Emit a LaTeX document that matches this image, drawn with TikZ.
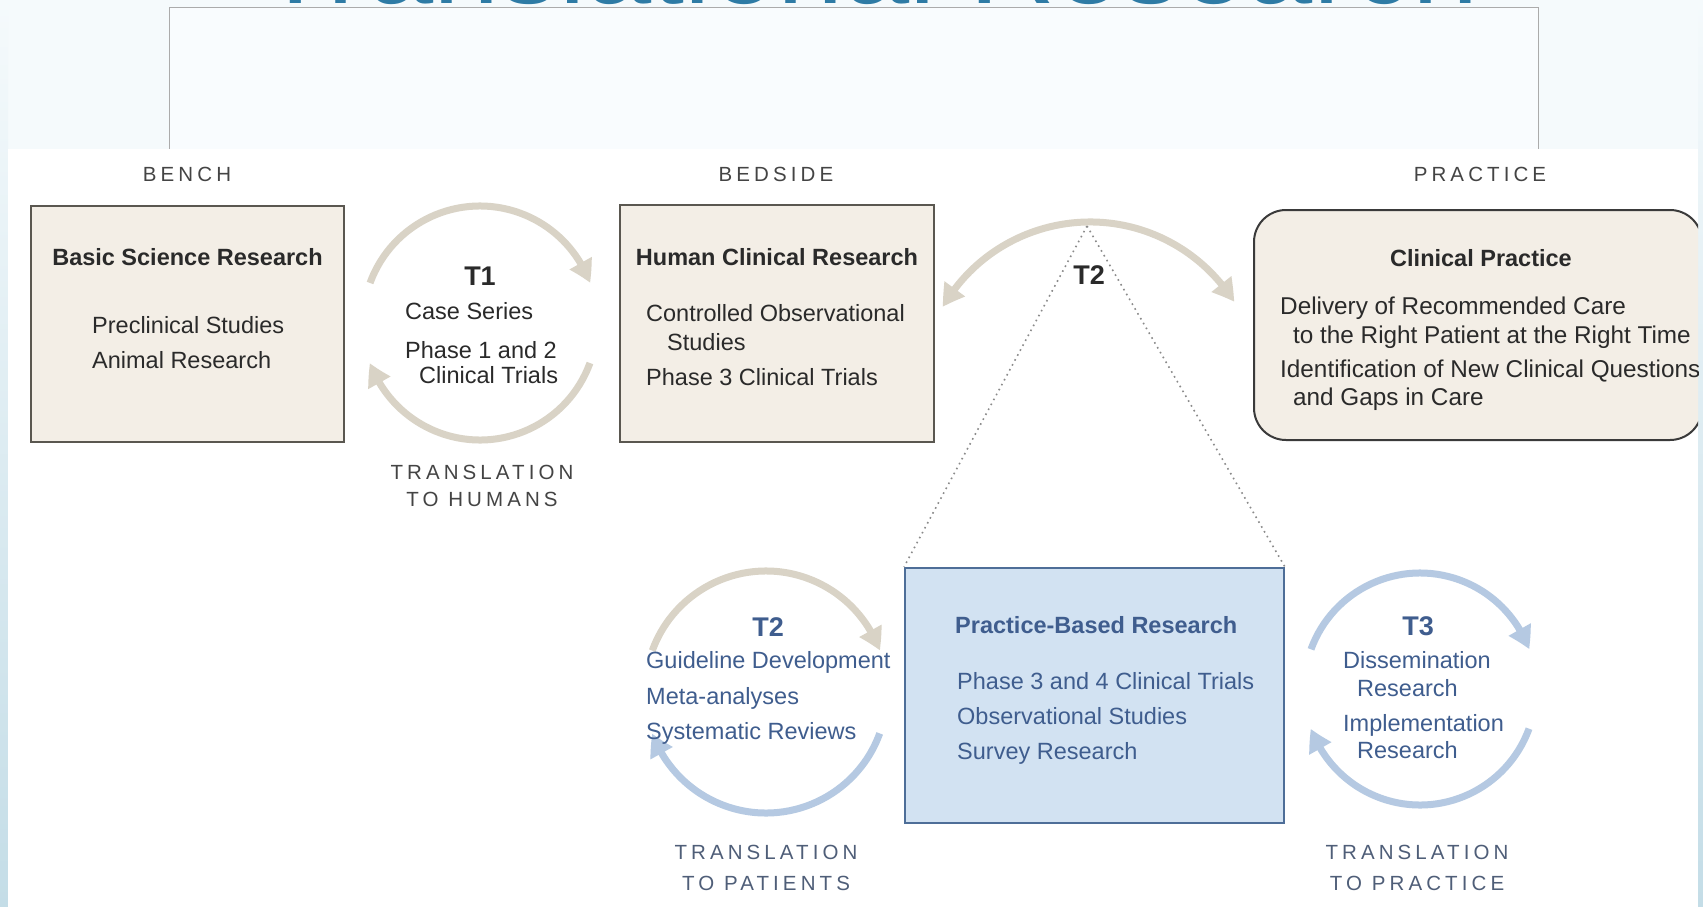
\documentclass[tikz,border=0pt]{standalone}
\usepackage{fontspec}
\setmainfont{Liberation Sans}
\newfontfamily\capsfont[LetterSpace=20]{Liberation Sans}
\usetikzlibrary{arrows.meta,bending}

\definecolor{bgpale}{HTML}{F5FAFC}
\definecolor{framefill}{HTML}{F9FCFE}
\definecolor{framegray}{HTML}{ABABAB}
\definecolor{edgeblue}{HTML}{C4DDE7}
\definecolor{titleblue}{HTML}{2E7BA5}
\definecolor{boxfill}{HTML}{F3EEE6}
\definecolor{boxline}{HTML}{5A5750}
\definecolor{cpline}{HTML}{3A3A3A}
\definecolor{ink}{HTML}{2A2A2A}
\definecolor{capgray}{HTML}{444444}
\definecolor{beigearc}{HTML}{D9D3C6}
\definecolor{bluearc}{HTML}{B5C9E2}
\definecolor{bluefill}{HTML}{D2E2F2}
\definecolor{blueline}{HTML}{4E6E98}
\definecolor{bluetxt}{HTML}{3F5D8E}
\definecolor{bluecap}{HTML}{4F5E78}
\definecolor{dotgray}{HTML}{8A8A8A}

\begin{document}
\begin{tikzpicture}[x=1pt,y=1pt,
	box/.style={draw=boxline,fill=boxfill,line width=2pt,inner sep=0pt},
	bluebox/.style={draw=blueline,fill=bluefill,line width=2pt,inner sep=0pt},
	txt/.style={anchor=base west,inner sep=0pt,text=ink,font=\fontsize{23.5}{28}\selectfont},
	bigtxt/.style={txt,font=\fontsize{24.3}{29}\selectfont},
	headtxt/.style={anchor=base,inner sep=0pt,text=ink,font=\fontsize{23.5}{28}\selectfont\bfseries},
	tlab/.style={anchor=base,inner sep=0pt,text=ink,font=\fontsize{27}{32}\selectfont\bfseries},
	capstxt/.style={anchor=base,inner sep=0pt,text=capgray,font=\fontsize{20.5}{24}\selectfont\capsfont},
	swoosh/.style={line width=7pt,-{Triangle[length=22pt,width=24pt,bend]}},
	dotline/.style={draw=dotgray,line width=1.6pt,dash pattern=on 1.6pt off 4pt}]
	\useasboundingbox (0,0) rectangle (1703,-907);
	\clip (0,0) rectangle (1703,-907);
	% page behind the figure
	\fill[bgpale] (0,0) rectangle (1703,-907);
	\shade[top color=bgpale,bottom color=edgeblue] (0,0) rectangle (8,-907);
	\shade[top color=bgpale,bottom color=edgeblue] (1698,0) rectangle (1703,-907);
	\node[anchor=base,inner sep=0pt,text=titleblue,font=\fontsize{119}{130}\selectfont] (title) at (869,-4) {Translational Research};
	\draw[draw=framegray,fill=framefill,line width=1pt] (169,-8) rectangle (1538,-160);
	\fill[white] (8,-149) rectangle (1698,-907);
	\begin{scope}
	\clip (8,-149) rectangle (1698,-907);
	\node[capstxt] (bench) at (187,-181) {BENCH};
	\node[capstxt] (bedside) at (776,-181) {BEDSIDE};
	\node[capstxt] (practice) at (1480,-181) {PRACTICE};
	% boxes
	\node[box,minimum width=313pt,minimum height=236pt] (basic) at (187.5,-324) {};
	\node[box,minimum width=314pt,minimum height=237pt] (human) at (777,-323.5) {};
	\node[box,draw=cpline,rounded corners=32pt,minimum width=448pt,minimum height=230pt] (clinical) at (1478,-325) {};
	\node[bluebox,minimum width=379pt,minimum height=255pt] (pbr) at (1094.5,-695.5) {};
	% bench
	\node[headtxt] (basicH) at (187.5,-265) {Basic Science Research};
	\node[txt] (basic1) at (92,-333) {Preclinical Studies};
	\node[txt] (basic2) at (92,-368) {Animal Research};
	% T1
	\coordinate (t1c) at (480,-323);
	\draw[swoosh,draw=beigearc] ([shift={(160:117)}]t1c) arc[start angle=160,end angle=20,radius=117];
	\draw[swoosh,draw=beigearc] ([shift={(-20:117)}]t1c) arc[start angle=-20,end angle=-160,radius=117];
	\node[tlab] (t1) at (480,-285) {T1};
	\node[txt] (t1a) at (405,-319) {Case Series};
	\node[txt] (t1b) at (405,-358) {Phase 1 and 2};
	\node[txt] (t1d) at (419,-383) {Clinical Trials};
	\node[capstxt] (t1t) at (482,-479) {TRANSLATION};
	\node[capstxt] (t1u) at (482,-506) {TO HUMANS};
	% bedside
	\node[headtxt] (humanH) at (777,-265) {Human Clinical Research};
	\node[txt] (human1) at (646,-321) {Controlled Observational};
	\node[txt] (human2) at (667,-350) {Studies};
	\node[txt] (human3) at (646,-385) {Phase 3 Clinical Trials};
	% T2 over the top
	\coordinate (t2c) at (1090,-392);
	\coordinate (apex) at (1087,-226);
	\draw[dotline] (apex) -- (pbr.north west);
	\draw[dotline] (apex) -- (pbr.north east);
	\draw[swoosh,draw=beigearc,{Triangle[length=22pt,width=24pt,bend]}-{Triangle[length=22pt,width=24pt,bend]}] ([shift={(150:170)}]t2c) arc[start angle=150,end angle=32,radius=170];
	\node[tlab] (t2top) at (1089,-284) {T2};
	% practice
	\node[headtxt] (clinicalH) at (1481,-266) {Clinical Practice};
	\node[bigtxt] (clin1) at (1280,-314) {Delivery of Recommended Care};
	\node[bigtxt] (clin2) at (1293,-343) {to the Right Patient at the Right Time};
	\node[bigtxt] (clin3) at (1280,-377) {Identification of New Clinical Questions};
	\node[bigtxt] (clin4) at (1293,-405) {and Gaps in Care};
	% T2 below
	\coordinate (t2lc) at (766,-692);
	\draw[swoosh,draw=beigearc] ([shift={(160:121)}]t2lc) arc[start angle=160,end angle=20,radius=121];
	\draw[swoosh,draw=bluearc] ([shift={(-20:121)}]t2lc) arc[start angle=-20,end angle=-160,radius=121];
	\node[tlab,text=bluetxt] (t2low) at (768,-636) {T2};
	\node[txt,text=bluetxt] (t2a) at (646,-668) {Guideline Development};
	\node[txt,text=bluetxt] (t2b) at (646,-704) {Meta-analyses};
	\node[txt,text=bluetxt] (t2d) at (646,-739) {Systematic Reviews};
	\node[capstxt,text=bluecap] (t2t) at (766,-859) {TRANSLATION};
	\node[capstxt,text=bluecap] (t2u) at (766,-890) {TO PATIENTS};
	% practice-based research
	\node[headtxt,anchor=base west,text=bluetxt] (pbrH) at (955,-633) {Practice-Based Research};
	\node[txt,text=bluetxt] (pbr1) at (957,-689) {Phase 3 and 4 Clinical Trials};
	\node[txt,text=bluetxt] (pbr2) at (957,-724) {Observational Studies};
	\node[txt,text=bluetxt] (pbr3) at (957,-759) {Survey Research};
	% T3
	\coordinate (t3c) at (1420,-689);
	\draw[swoosh,draw=bluearc] ([shift={(160:116)}]t3c) arc[start angle=160,end angle=20,radius=116];
	\draw[swoosh,draw=bluearc] ([shift={(-20:116)}]t3c) arc[start angle=-20,end angle=-160,radius=116];
	\node[tlab,text=bluetxt] (t3) at (1418,-635) {T3};
	\node[txt,text=bluetxt] (t3a) at (1343,-668) {Dissemination};
	\node[txt,text=bluetxt] (t3b) at (1357,-696) {Research};
	\node[txt,text=bluetxt] (t3d) at (1343,-731) {Implementation};
	\node[txt,text=bluetxt] (t3e) at (1357,-758) {Research};
	\node[capstxt,text=bluecap] (t3t) at (1417,-859) {TRANSLATION};
	\node[capstxt,text=bluecap] (t3u) at (1417,-890) {TO PRACTICE};
	\end{scope}
\end{tikzpicture}
\end{document}
